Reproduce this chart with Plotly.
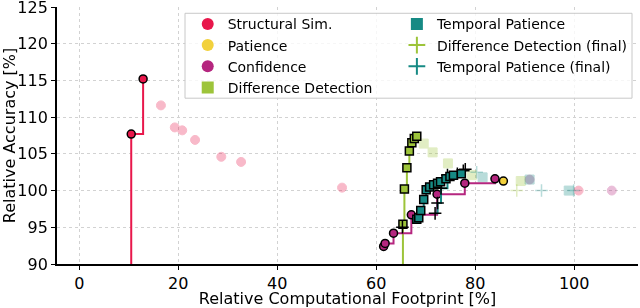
import plotly.graph_objects as go

# ---------------- data ----------------
# Structural Sim. (first point is below the visible range)
ss_front_x = [5.0, 10.5, 12.9]
ss_front_y = [60.0, 107.7, 115.2]
ss_other_x = [16.5, 19.3, 20.8, 23.4, 28.7, 32.7, 53.1, 100.9]
ss_other_y = [111.6, 108.6, 108.2, 106.9, 104.6, 103.9, 100.4, 100.0]

# Patience
pat_front_x = [85.7]
pat_front_y = [101.3]

# Confidence
conf_front_x = [61.5, 61.8, 63.5, 67.1, 72.3, 77.9, 84.0]
conf_front_y = [92.4, 92.8, 94.2, 96.7, 99.5, 101.0, 101.6]
conf_other_x = [91.0, 107.6]
conf_other_y = [101.5, 100.0]

# Difference Detection (first point is below the visible range)
dd_front_x = [60.0, 65.4, 65.7, 66.2, 66.7, 67.2, 67.7, 68.2]
dd_front_y = [70.0, 95.4, 100.2, 103.1, 105.4, 106.5, 107.1, 107.4]
dd_other_x = [69.6, 71.4, 74.5, 79.3, 89.2]
dd_other_y = [106.4, 105.2, 103.7, 102.1, 101.3]

# Temporal Patience
tp_front_x = [68.2, 68.6, 69.0, 69.6, 70.1, 70.8, 71.6, 72.4, 73.0, 74.1, 74.9, 75.6, 77.2]
tp_front_y = [96.1, 96.3, 97.3, 98.8, 100.1, 100.5, 100.8, 101.0, 101.2, 101.6, 101.9, 102.1, 102.3]
tp_other_x = [81.5, 91.0, 98.9]
tp_other_y = [101.8, 101.5, 100.0]

# Difference Detection (final)
ddf_front_x = [65.3]
ddf_front_y = [95.0]
ddf_other_x = [88.4]
ddf_other_y = [100.0]

# Temporal Patience (final)
tpf_front_x = [71.9, 72.4, 73.1, 74.4, 76.4, 77.6, 78.0]
tpf_front_y = [96.9, 98.3, 100.3, 102.1, 102.3, 102.7, 102.9]
tpf_other_x = [80.3, 93.4, 99.9]
tpf_other_y = [102.5, 100.0, 100.0]

x_ticks = [0, 20, 40, 60, 80, 100]
y_ticks = [90, 95, 100, 105, 110, 115, 120, 125]

# ---------------- style ----------------
C_SS = "#e8174b"
C_PAT = "#f2d13c"
C_CONF = "#b5267f"
C_DD = "#9dc43a"
C_TP = "#168a84"
FONT = "DejaVu Sans"

fig = go.Figure()


def faded(x, y, color, symbol, size=9):
    if symbol.startswith("cross"):
        mk = dict(symbol=symbol, size=size, color=color, line=dict(color=color, width=1.5))
    else:
        mk = dict(symbol=symbol, size=size, color=color, line=dict(color=color, width=1))
    fig.add_trace(go.Scatter(x=x, y=y, mode="markers", marker=mk, opacity=0.3,
                             showlegend=False, hoverinfo="skip"))


def front(x, y, color, symbol, line=True, size=8):
    if symbol.startswith("cross"):
        mk = dict(symbol=symbol, size=size + 1, color="black", line=dict(color="black", width=1.5))
    else:
        mk = dict(symbol=symbol, size=size, color=color, line=dict(color="black", width=1.5))
    fig.add_trace(go.Scatter(x=x, y=y, mode="lines+markers" if line else "markers",
                             line=dict(color=color, width=2, shape="hv"),
                             marker=mk, showlegend=False, hoverinfo="skip"))


# faded (dominated) points
faded(ss_other_x, ss_other_y, C_SS, "circle")
faded(conf_other_x, conf_other_y, C_CONF, "circle")
faded(dd_other_x, dd_other_y, C_DD, "square")
faded(tp_other_x, tp_other_y, C_TP, "square")
faded(ddf_other_x, ddf_other_y, C_DD, "cross-thin")
faded(tpf_other_x, tpf_other_y, C_TP, "cross-thin")

# pareto fronts
front(ss_front_x, ss_front_y, C_SS, "circle")
front(dd_front_x, dd_front_y, C_DD, "square")
front(conf_front_x, conf_front_y, C_CONF, "circle")
front(tpf_front_x, tpf_front_y, C_TP, "cross-thin")
front(tp_front_x, tp_front_y, C_TP, "square")
front(ddf_front_x, ddf_front_y, C_DD, "cross-thin", line=False)
front(pat_front_x, pat_front_y, C_PAT, "circle", line=False)

# legend entries
leg1 = [("Structural Sim.", C_SS, "circle"), ("Patience", C_PAT, "circle"),
        ("Confidence", C_CONF, "circle"), ("Difference Detection", C_DD, "square")]
leg2 = [("Temporal Patience", C_TP, "square"), ("Difference Detection (final)", C_DD, "cross-thin"),
        ("Temporal Patience (final)", C_TP, "cross-thin")]
for grp, entries in (("legend", leg1), ("legend2", leg2)):
    for name, col, sym in entries:
        if sym.startswith("cross"):
            mk = dict(symbol=sym, size=7, color=col, line=dict(color=col, width=2))
        else:
            mk = dict(symbol=sym, size=7, color=col, line=dict(color=col, width=0))
        fig.add_trace(go.Scatter(x=[None], y=[None], mode="markers", name=name, marker=mk,
                                 legend=grp, showlegend=True))

leg_common = dict(bgcolor="rgba(0,0,0,0)", borderwidth=0, font=dict(family=FONT, size=14, color="black"),
                  xanchor="left", yanchor="top", tracegroupgap=0, itemsizing="constant")

axis_common = dict(showline=True, linecolor="black", linewidth=1.8,
                   ticks="outside", ticklen=4, tickwidth=1.2, tickcolor="black",
                   showgrid=True, gridcolor="#d2d2d2", gridwidth=0.8, griddash="dot",
                   zeroline=False, mirror=False, automargin=False, ticklabeloverflow="allow",
                   tickfont=dict(family=FONT, size=16, color="black"))

fig.update_layout(
    width=640, height=308,
    margin=dict(l=57, r=2, t=7, b=44),
    paper_bgcolor="white", plot_bgcolor="white",
    font=dict(family=FONT, size=16, color="black"),
    xaxis=dict(range=[-4.5, 112.9], tickvals=x_ticks, **axis_common,
               title=dict(text="Relative Computational Footprint [%]", standoff=3,
                          font=dict(family=FONT, size=16))),
    yaxis=dict(range=[90, 125], tickvals=y_ticks, **axis_common,
               title=dict(text="Relative Accuracy [%]", standoff=4,
                          font=dict(family=FONT, size=16))),
    legend=dict(x=0.225, y=0.995, **leg_common),
    legend2=dict(x=0.585, y=0.995, **leg_common),
    shapes=[dict(type="rect", xref="paper", yref="paper",
                 x0=(185 - 57) / 581, x1=(632 - 57) / 581,
                 y0=1 - (98 - 6.7) / 257.3, y1=1 - (13 - 6.7) / 257.3,
                 line=dict(color="#c8c8c8", width=1), fillcolor="rgba(255,255,255,0.8)",
                 layer="above")],
)

fig.write_html("out.html", config={"displayModeBar": False},
               post_script="document.body.style.margin='0px';")
